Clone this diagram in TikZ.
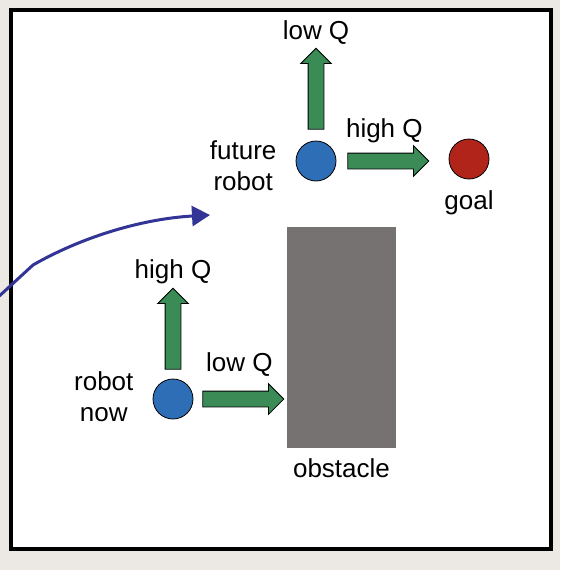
\documentclass[tikz,border=0pt]{standalone}
\usepackage{fontspec}
\setmainfont{Liberation Sans}
\usetikzlibrary{positioning,shapes.arrows,arrows.meta}

\definecolor{paper}{RGB}{236,233,228}
\definecolor{qgreen}{RGB}{59,139,87}
\definecolor{botblue}{RGB}{46,110,182}
\definecolor{goalred}{RGB}{176,36,26}
\definecolor{obsgray}{RGB}{118,114,113}
\definecolor{pathblue}{RGB}{50,52,150}

\begin{document}
\begin{tikzpicture}[x=1pt, y=-1pt,
  every node/.style={font=\fontsize{26}{31}\selectfont},
  lbl/.style={align=center, inner sep=1pt},
  bot/.style={circle, draw=black, line width=0.8pt, fill=botblue,
    minimum size=40pt, inner sep=0pt},
  qarrow/.style={single arrow, draw=black, line width=0.8pt, fill=qgreen,
    minimum height=81pt, minimum width=30pt, single arrow head extend=7.5pt,
    inner sep=7.5pt},
  uparrow/.style={qarrow, shape border rotate=90},
]
% paper and frame
\useasboundingbox (0,0) rectangle (560,570);
\clip (0,0) rectangle (560,570);
\fill[paper] (0,0) rectangle (560,570);
\draw[line width=4pt, fill=white] (11,10) rectangle (551,549);

% robots, goal, obstacle
\node[bot] (now) at (173,399) {};
\node[bot] (fut) at (316,161) {};
\node[bot, fill=goalred] (goal) at (469,159) {};
\node[fill=obsgray, minimum width=109pt, minimum height=221pt, inner sep=0pt]
  (obs) at (341.5,337.5) {};

% Q arrows
\node[qarrow, right=9pt of now] (nowR) {};
\node[uparrow, above=9pt of now] (nowU) {};
\node[qarrow, right=11pt of fut] (futR) {};
\node[uparrow, above=11pt of fut] (futU) {};

% labels
\node[lbl, above=3pt of nowU] {high Q};
\node[lbl, above=13pt of nowR] {low Q};
\node[lbl, above=2pt of futU] {low Q};
\node[lbl, above=9pt of futR] {high Q};
\node[lbl, left=18pt of now, yshift=2pt] {robot\\now};
\node[lbl, left=18pt of fut, yshift=-5pt] {future\\robot};
\node[lbl, below=10pt of goal] {goal};
\node[lbl, below=9pt of obs] {obstacle};

% path of the robot
\coordinate (tail) at (-5,300);
\coordinate (bend) at (33,265);
\coordinate (head) at (210,215);
\draw[pathblue, line width=3pt, -{Triangle[length=18pt, width=20pt]}]
  (tail) -- (bend) .. controls (80,238) and (140,219) .. (head);
\end{tikzpicture}
\end{document}
